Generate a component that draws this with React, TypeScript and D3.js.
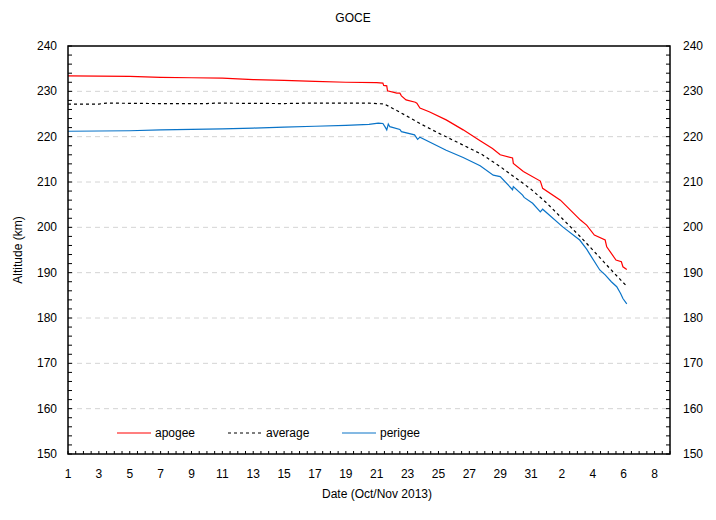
import { line, range, scaleLinear } from "d3";
import { FC } from "react";

// days since 1 Oct 2013, altitude in km
const apogee: [number, number][] = [
  [0, 233.4], [4, 233.3], [6, 233.1], [8, 233.0], [10, 232.9], [12, 232.6],
  [14, 232.4], [16, 232.2], [18, 232.0], [20, 231.9], [20.4, 231.8],
  [20.45, 231.3], [20.65, 231.2], [20.7, 230.1], [21.3, 229.6], [21.5, 229.6],
  [21.6, 229.0], [21.9, 228.1], [22.5, 227.6], [22.6, 227.4], [22.8, 226.3],
  [23.4, 225.5], [24.5, 223.7], [25.6, 221.5], [26.7, 219.1], [27.5, 217.4],
  [28.0, 216.0], [28.8, 215.3], [28.85, 214.1], [29.5, 212.3], [30.6, 210.2],
  [30.75, 208.6], [31.9, 206.0], [33.2, 201.6], [33.6, 200.5], [34.1, 198.3],
  [34.8, 197.2], [34.9, 195.7], [35.5, 192.8], [35.85, 192.4], [35.95, 191.3],
  [36.2, 190.7]
];

const average: [number, number][] = [
  [0, 227.2], [2, 227.2], [2.5, 227.4], [6, 227.3], [9, 227.3], [9.5, 227.4],
  [14, 227.3], [15.5, 227.4], [19.5, 227.4], [20.5, 227.2], [21.5, 225.4],
  [22.8, 222.9], [24, 220.8], [25.5, 218.3], [26.8, 216.1], [28, 213.4],
  [28.8, 211.4], [30, 208.4], [31, 205.4], [32, 202.0], [33.2, 197.9],
  [34, 195.0], [35.3, 190.2], [36.2, 187.0]
];

const perigee: [number, number][] = [
  [0, 221.2], [4, 221.3], [6, 221.5], [8, 221.6], [10, 221.7], [12, 221.9],
  [14, 222.1], [16, 222.3], [18, 222.5], [19.5, 222.7], [20.1, 223.0],
  [20.4, 222.9], [20.55, 222.1], [20.65, 221.5], [20.75, 222.8], [20.85, 222.2],
  [21.5, 221.6], [21.6, 221.1], [22.45, 220.4], [22.65, 219.4], [22.8, 219.9],
  [24.5, 217.0], [25.6, 215.4], [26.7, 213.6], [27.55, 211.5], [28.0, 211.2],
  [28.8, 208.3], [28.85, 209.0], [29.45, 207.1], [29.55, 206.6], [30.1, 205.3],
  [30.6, 203.4], [30.75, 204.0], [32.05, 200.1], [33.15, 197.2], [33.6, 195.2],
  [33.8, 194.1], [34.45, 190.6], [34.8, 189.5], [35.2, 188.0], [35.55, 186.9],
  [35.8, 185.4], [35.95, 184.3], [36.2, 183.1]
];

const xTickDays = range(0, 39, 2);
const xTickLabels = [
  "1", "3", "5", "7", "9", "11", "13", "15", "17", "19", "21", "23", "25",
  "27", "29", "31", "2", "4", "6", "8"
];
const yTicks = [150, 160, 170, 180, 190, 200, 210, 220, 230, 240];

const W = 716;
const H = 520;
const left = 68;
const right = 670;
const top = 46;
const bottom = 454;
const font = "'Liberation Sans', Arial, sans-serif";

const App: FC = () => {
  const x = scaleLinear().domain([0, 39]).range([left, right]);
  const y = scaleLinear().domain([150, 240]).range([bottom, top]);

  const path = line<[number, number]>()
    .x(d => x(d[0]))
    .y(d => y(d[1]));

  const xMinor = range(0, 39.01, 0.5);
  const yMinor = range(150, 240.01, 2);

  const series = [
    { name: "apogee", data: apogee, color: "#ff0000", dash: undefined, lx: 117 },
    { name: "average", data: average, color: "#000000", dash: "3,3", lx: 228 },
    { name: "perigee", data: perigee, color: "#0a74c8", dash: undefined, lx: 342 }
  ];

  return (
    <svg
      width={W}
      height={H}
      style={{ position: "absolute", left: 0, top: 0, background: "#fff" }}
      fontFamily={font}
    >
      <rect width={W} height={H} fill="#fff" />

      {/* grid */}
      {yTicks.slice(1, -1).map(v => (
        <line
          key={"g" + v}
          x1={left}
          x2={right}
          y1={y(v)}
          y2={y(v)}
          stroke="#d4d4d4"
          strokeDasharray="5,4"
        />
      ))}

      {/* minor ticks */}
      {yMinor.map(v => (
        <g key={"yt" + v}>
          <line x1={left} x2={left + 4} y1={y(v)} y2={y(v)} stroke="#000" />
          <line x1={right - 4} x2={right} y1={y(v)} y2={y(v)} stroke="#000" />
        </g>
      ))}
      {xMinor.map(d => (
        <line key={"xt" + d} x1={x(d)} x2={x(d)} y1={bottom} y2={bottom - 3} stroke="#000" />
      ))}

      {/* data */}
      {series.map(s => (
        <path
          key={s.name}
          d={path(s.data) ?? ""}
          fill="none"
          stroke={s.color}
          strokeWidth={1.2}
          strokeDasharray={s.dash}
        />
      ))}

      <rect
        x={left}
        y={top}
        width={right - left}
        height={bottom - top}
        fill="none"
        stroke="#000"
        strokeWidth={1.5}
      />

      {/* tick labels */}
      {yTicks.map(v => (
        <g key={"yl" + v} fontSize={12} fill="#000">
          <text x={57} y={y(v)} textAnchor="end" dominantBaseline="central">
            {v}
          </text>
          <text x={683} y={y(v)} dominantBaseline="central">
            {v}
          </text>
        </g>
      ))}
      {xTickDays.map((d, i) => (
        <text
          key={"xl" + d}
          x={x(d)}
          y={474}
          textAnchor="middle"
          dominantBaseline="central"
          fontSize={12}
        >
          {xTickLabels[i]}
        </text>
      ))}

      {/* legend */}
      {series.map(s => (
        <g key={"lg" + s.name}>
          <line
            x1={s.lx}
            x2={s.lx + 34}
            y1={433}
            y2={433}
            stroke={s.color}
            strokeWidth={1.2}
            strokeDasharray={s.dash}
          />
          <text x={s.lx + 38} y={433} dominantBaseline="central" fontSize={12}>
            {s.name}
          </text>
        </g>
      ))}

      {/* titles */}
      <text x={353} y={18} textAnchor="middle" dominantBaseline="central" fontSize={12}>
        GOCE
      </text>
      <text
        transform={`translate(18,${(top + bottom) / 2}) rotate(-90)`}
        textAnchor="middle"
        dominantBaseline="central"
        fontSize={12}
      >
        Altitude (km)
      </text>
      <text x={377} y={494} textAnchor="middle" dominantBaseline="central" fontSize={12}>
        Date (Oct/Nov 2013)
      </text>
    </svg>
  );
};

export default App;
